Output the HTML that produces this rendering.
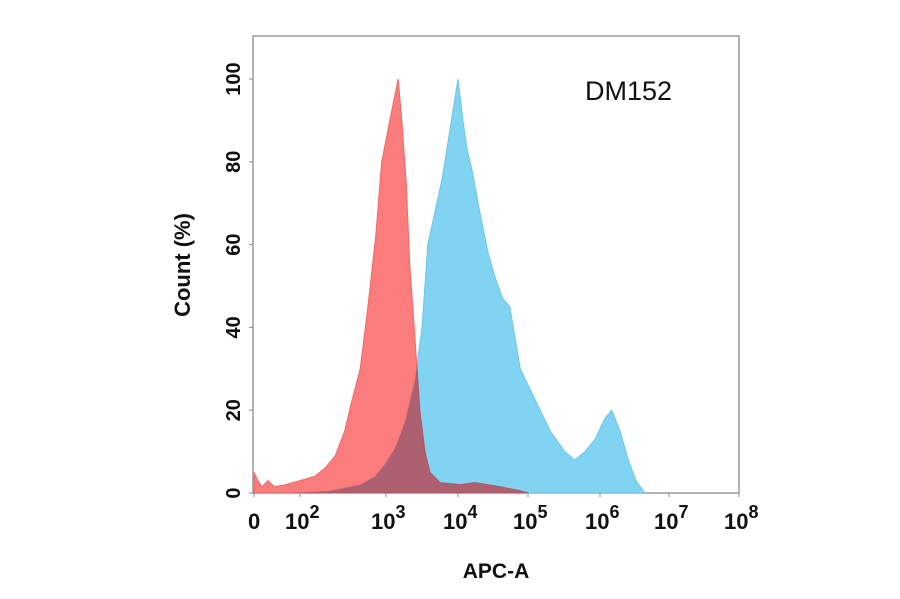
<!DOCTYPE html>
<html><head><meta charset="utf-8"><style>
body{margin:0;background:#fff}
svg text{font-family:"Liberation Sans",Arial,sans-serif;font-weight:bold;fill:#111}
</style></head><body>
<svg id="chart" width="900" height="594" viewBox="0 0 900 594">
<defs><clipPath id="blueClip"><path id="blueClipPath" d=""/></clipPath></defs>
<rect x="253" y="36" width="486" height="457" fill="#fff" stroke="#999" stroke-width="1.5"/>
<g id="series"></g>
<g id="axes"></g>
<text x="585" y="100" font-size="27" style="font-weight:normal">DM152</text>
<text transform="translate(190,265) rotate(-90)" text-anchor="middle" font-size="22">Count  (%)</text>
<text x="496" y="578" text-anchor="middle" font-size="21">APC-A</text>
</svg>
<script>
const yTicks=[0,20,40,60,80,100];
const xTickExp=[0,2,3,4,5,6,7,8];
const redL=[0,0.17,0.35,0.6,0.9,1.35,2,2.17,2.29,2.41,2.52,2.6,2.7,2.79,2.88,2.95,3.03,3.11,3.17,3.22,3.28,3.33,3.4,3.47,3.54,3.61,3.75,4.03,4.24,4.6,4.89,5];
const redCount=[5,3,1.5,3,1.5,2,3,4,6,9,15,22,30,45,62,80,88,95,100,90,75,55,38,20,10,5,2.5,2,2.5,1.5,0.5,0];
const blueL=[1.57,2.35,2.7,2.87,2.99,3.13,3.26,3.4,3.5,3.58,3.68,3.78,3.89,4,4.07,4.13,4.2,4.31,4.43,4.53,4.64,4.74,4.81,4.89,5.03,5.17,5.31,5.51,5.65,5.79,5.93,6.07,6.17,6.29,6.41,6.52,6.65];
const blueCount=[0,0.5,2,4,7,11,17,27,40,60,68,76,88,100,90,83,78,68,58,52,47,45,38,30,25,20,15,10,8,10,13,18,20,15,8,3,0];
const NS='http://www.w3.org/2000/svg';
const anchorsL=[0,2,3,4,5,6,7,8], anchorsX=[254,300,386,458,528,600,669,739];
function xs(L){for(let i=0;i<anchorsL.length-1;i++){if(L<=anchorsL[i+1]){const t=(L-anchorsL[i])/(anchorsL[i+1]-anchorsL[i]);return anchorsX[i]+t*(anchorsX[i+1]-anchorsX[i]);}}return 739;}
function ys(v){return 493-v*4.14;}
function pathD(Ls,Cs){
 let d='M'+xs(Ls[0])+','+ys(0);
 for(let i=0;i<Ls.length;i++)d+='L'+xs(Ls[i]).toFixed(1)+','+ys(Cs[i]).toFixed(1);
 return d+'L'+xs(Ls[Ls.length-1])+','+ys(0)+'Z';
}
function area(d,fill,stroke,name,clip){
 const p=document.createElementNS(NS,'path');
 p.setAttribute('d',d);p.setAttribute('fill',fill);p.setAttribute('stroke',stroke);p.setAttribute('stroke-width','1');
 if(clip)p.setAttribute('clip-path','url(#blueClip)');
 
 
 document.getElementById('series').appendChild(p);
}
const bd=pathD(blueL,blueCount), rd=pathD(redL,redCount);
document.getElementById('blueClipPath').setAttribute('d',bd);
area(bd,'#80d3f1','#6cc6ea','sample-histogram');
area(rd,'#fa7c7c','#f06a6a','control-histogram');
area(rd,'#ad6070','#a85868','overlap-region',true);
const ax=document.getElementById('axes');
yTicks.forEach(v=>{
 const y=ys(v);
 const l=document.createElementNS(NS,'line');
 l.setAttribute('x1',249);l.setAttribute('x2',253);l.setAttribute('y1',y);l.setAttribute('y2',y);l.setAttribute('stroke','#888');
 
 
 ax.appendChild(l);
 const t=document.createElementNS(NS,'text');
 t.setAttribute('transform','translate(240,'+y+') rotate(-90)');t.setAttribute('text-anchor','middle');t.setAttribute('font-size','20');
 t.textContent=v;
 
 
 ax.appendChild(t);
});
xTickExp.forEach(e=>{
 const x=xs(e);
 const l=document.createElementNS(NS,'line');
 l.setAttribute('x1',x);l.setAttribute('x2',x);l.setAttribute('y1',493);l.setAttribute('y2',497);l.setAttribute('stroke','#888');
 
 
 ax.appendChild(l);
 const t=document.createElementNS(NS,'text');
 t.setAttribute('y',529);t.setAttribute('font-size','22');
 
 
 if(e===0){t.setAttribute('x',x-6);t.textContent='0';}
 else{t.setAttribute('x',x-15);t.textContent='10';
  const s=document.createElementNS(NS,'tspan');s.setAttribute('dy','-11');s.setAttribute('font-size','18');s.textContent=e;t.appendChild(s);}
 ax.appendChild(t);
});
</script>
</body></html>
